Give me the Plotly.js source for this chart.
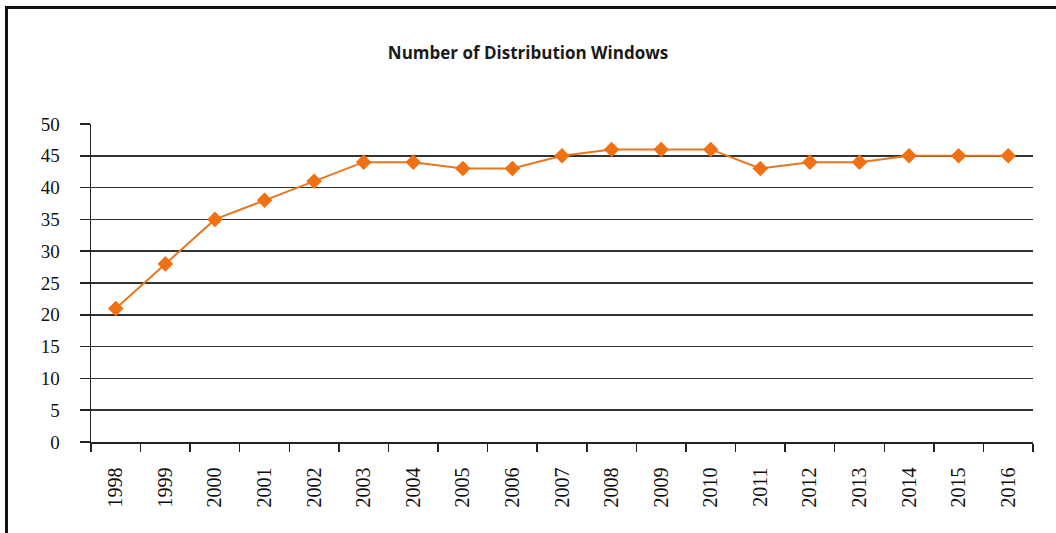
<!DOCTYPE html>
<html>
<head>
<meta charset="utf-8">
<script src="https://cdn.plot.ly/plotly-3.0.1.min.js"></script>
<style>
  html, body { margin: 0; padding: 0; background: #fff; overflow: hidden; }
  #chart { width: 1056px; height: 533px; }
  #frame { position: absolute; left: 5px; top: 6px; width: 1200px; height: 700px;
           border-left: 3px solid #111; border-top: 3px solid #111; pointer-events: none; }
</style>
</head>
<body>
<div id="chart"></div>
<div id="frame"></div>
<script>
const years = ["1998","1999","2000","2001","2002","2003","2004","2005","2006","2007","2008","2009","2010","2011","2012","2013","2014","2015","2016"];
const windows = [21, 28, 35, 38, 41, 44, 44, 43, 43, 45, 46, 46, 46, 43, 44, 44, 45, 45, 45];
const yTicks = [0, 5, 10, 15, 20, 25, 30, 35, 40, 45, 50];
const chartTitle = "Number of Distribution Windows";

const trace = {
  x: years,
  y: windows,
  type: "scatter",
  mode: "lines+markers",
  line: { color: "#E8761E", width: 2 },
  marker: { symbol: "diamond", size: 12, color: "#F07014" },
  hoverinfo: "x+y"
};

const layout = {
  width: 1056,
  height: 533,
  margin: { l: 91, r: 23, t: 124, b: 91, pad: 0 },
  paper_bgcolor: "#ffffff",
  plot_bgcolor: "#ffffff",
  showlegend: false,
  title: {
    text: "<b>" + chartTitle + "</b>",
    font: { family: "Open Sans, Liberation Sans, sans-serif", size: 17, color: "#1a1a1a" },
    x: 0.5, xanchor: "center", xref: "container",
    y: 0.9, yanchor: "middle", yref: "container"
  },
  xaxis: {
    type: "category",
    range: [-0.5, years.length - 0.5],
    autorange: false,
    tickson: "boundaries",
    ticks: "outside",
    ticklen: 8,
    tickwidth: 1.5,
    tickcolor: "#222",
    showline: true,
    linecolor: "#222",
    linewidth: 1.5,
    showgrid: false,
    zeroline: false,
    tickangle: -90,
    tickfont: { family: "Liberation Serif, Times New Roman, serif", size: 20, color: "#111" },
    ticklabelstandoff: 16,
    fixedrange: true
  },
  yaxis: {
    range: [0, 50],
    autorange: false,
    tickvals: yTicks,
    ticktext: yTicks.map(String),
    ticks: "outside",
    ticklen: 10,
    tickwidth: 1.5,
    tickcolor: "#222",
    showline: true,
    linecolor: "#222",
    linewidth: 1.5,
    showgrid: true,
    gridcolor: "#333",
    gridwidth: 1.5,
    zeroline: false,
    tickfont: { family: "Liberation Serif, Times New Roman, serif", size: 19, color: "#111" },
    ticklabelstandoff: 16,
    fixedrange: true
  }
};

Plotly.newPlot("chart", [trace], layout, { displayModeBar: false, staticPlot: true });
</script>
</body>
</html>
